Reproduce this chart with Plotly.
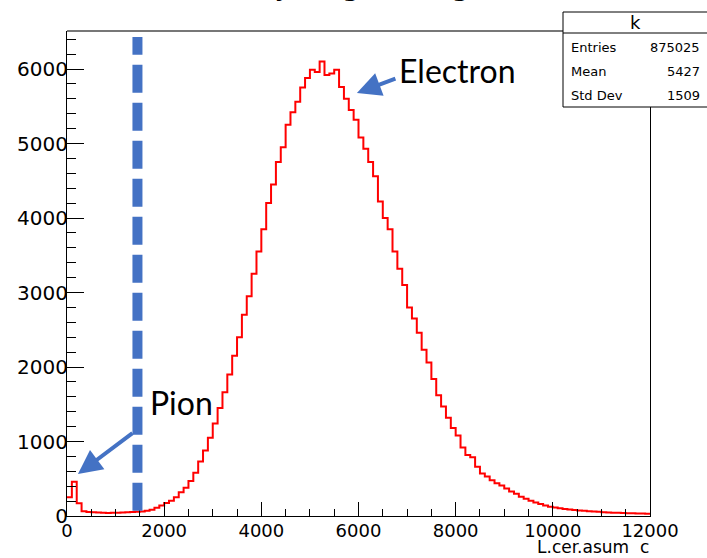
import plotly.graph_objects as go

# ---- data ----
bin_width = 100
counts = [250, 460, 170, 65, 55, 50, 48, 45, 40, 42,
          45, 48, 50, 55, 58, 60, 70, 85, 110, 140,
          175, 205, 250, 320, 380, 470, 580, 730, 880, 1050,
          1240, 1450, 1660, 1900, 2150, 2400, 2700, 2950, 3250, 3550,
          3850, 4200, 4450, 4750, 4950, 5250, 5420, 5560, 5750, 5880,
          5990, 5960, 6100, 5920, 5940, 5990, 5760, 5600, 5450, 5320,
          5080, 4930, 4750, 4560, 4220, 4000, 3850, 3550, 3320, 3100,
          2800, 2650, 2460, 2230, 2060, 1840, 1620, 1470, 1320, 1180,
          1080, 920, 820, 790, 660, 570, 530, 480, 440, 410,
          370, 330, 300, 260, 230, 205, 180, 160, 140, 125,
          115, 105, 95, 88, 80, 75, 70, 65, 60, 56,
          52, 48, 45, 42, 40, 38, 36, 34, 32, 30]
cut_value = 1450
title_text = "Hydrogen Target"
x_title = "L.cer.asum\u00a0\u00a0c"
stats_name = "k"
stats_labels = ["Entries", "Mean", "Std Dev"]
stats_values = ["875025", "5427", "1509"]
x_ticks = [0, 2000, 4000, 6000, 8000, 10000, 12000]
x_tick_text = ["0", "2000", "4000", "6000", "8000", "10000", "12000"]
y_ticks = [0, 1000, 2000, 3000, 4000, 5000, 6000]
y_tick_text = ["0", "1000", "2000", "3000", "4000", "5000", "6000"]

bin_edges = [i * bin_width for i in range(len(counts) + 1)]
step_y = counts + [counts[-1]]

BLUE = "#4472C4"
FONT = "DejaVu Sans"

fig = go.Figure()
fig.add_trace(go.Scatter(x=bin_edges, y=step_y, mode="lines",
                         line=dict(color="#ff0000", width=2, shape="hv"),
                         hoverinfo="skip", showlegend=False))

# cut line
fig.add_shape(type="line", x0=cut_value, x1=cut_value, y0=70, y1=6430,
              xref="x", yref="y",
              line=dict(color=BLUE, width=10, dash="28px,10px"))

# top frame line (gray)
fig.add_shape(type="line", x0=0, x1=1, y0=1, y1=1, xref="paper", yref="paper",
              line=dict(color="#777777", width=2))


def px_x(p):
    return (p - 67) / 583.0


def px_y(p):
    return (516 - p) / 485.0


# title, cut off at top of canvas
fig.add_annotation(text=title_text, xref="paper", yref="paper",
                   x=px_x(376), y=px_y(4),
                   xanchor="center", yanchor="bottom", showarrow=False,
                   font=dict(family=FONT, size=30, color="black"))

# x-axis title
fig.add_annotation(text=x_title, xref="paper", yref="paper",
                   x=px_x(651), y=px_y(559), xanchor="right", yanchor="bottom",
                   showarrow=False, font=dict(family=FONT, size=17, color="black"))

# arrows + labels
fig.add_annotation(x=5967, y=5678, xref="x", yref="y", text="",
                   showarrow=True, axref="pixel", ayref="pixel", ax=40, ay=-15,
                   arrowhead=2, arrowsize=1.2, arrowwidth=4, arrowcolor=BLUE)
fig.add_annotation(text="Electron", x=(397 - 67) / 48.6 * 1000, y=(516 - 70) / 74.5 * 1000,
                   xref="x", yref="y", xanchor="left", yanchor="middle",
                   showarrow=False, font=dict(family="Lato", size=32, color="black"))
fig.add_annotation(x=226, y=564, xref="x", yref="y", text="",
                   showarrow=True, axref="pixel", ayref="pixel", ax=56, ay=-42,
                   arrowhead=2, arrowsize=1.2, arrowwidth=4, arrowcolor=BLUE)
fig.add_annotation(text="Pion", x=(148 - 67) / 48.6 * 1000, y=(516 - 402) / 74.5 * 1000,
                   xref="x", yref="y", xanchor="left", yanchor="middle",
                   showarrow=False, font=dict(family="Lato", size=32, color="black"))

# stats box
fig.add_shape(type="rect", xref="paper", yref="paper",
              x0=px_x(563), x1=px_x(720), y0=px_y(107), y1=px_y(12),
              line=dict(color="black", width=1), fillcolor="white", layer="above")
fig.add_shape(type="line", xref="paper", yref="paper",
              x0=px_x(563), x1=px_x(720), y0=px_y(33), y1=px_y(33),
              line=dict(color="black", width=1), layer="above")
fig.add_annotation(text=stats_name, xref="paper", yref="paper",
                   x=px_x(635), y=px_y(22), xanchor="center", yanchor="middle",
                   showarrow=False, font=dict(family=FONT, size=18, color="black"))
rows_y = [47, 71, 96]
for lab, val, ry in zip(stats_labels, stats_values, rows_y):
    fig.add_annotation(text=lab, xref="paper", yref="paper",
                       x=px_x(569), y=px_y(ry), xanchor="left", yanchor="middle",
                       showarrow=False, font=dict(family=FONT, size=13, color="black"))
    fig.add_annotation(text=val, xref="paper", yref="paper",
                       x=px_x(702), y=px_y(ry), xanchor="right", yanchor="middle",
                       showarrow=False, font=dict(family=FONT, size=13, color="black"))

fig.update_layout(
    width=707, height=558,
    margin=dict(l=67, r=57, t=31, b=42, autoexpand=False),
    paper_bgcolor="white", plot_bgcolor="white",
    showlegend=False,
    xaxis=dict(range=[0, 12000], tickvals=x_ticks, ticktext=x_tick_text,
               ticks="inside", ticklen=14, automargin=False,
               tickcolor="black", showline=True, linecolor="black", linewidth=1,
               showgrid=False, zeroline=False,
               tickfont=dict(family=FONT, size=18, color="black"),
               ticklabelstandoff=-2,
               minor=dict(dtick=500, ticks="inside", ticklen=7, tickcolor="black", showgrid=False)),
    yaxis=dict(range=[0, 6510], tickvals=y_ticks, ticktext=y_tick_text,
               ticks="inside", ticklen=17, automargin=False,
               tickcolor="black", showline=True, linecolor="black", linewidth=1,
               mirror=True, showgrid=False, zeroline=False,
               tickfont=dict(family=FONT, size=20, color="black"),
               ticklabelstandoff=-6,
               minor=dict(dtick=200, ticks="inside", ticklen=9, tickcolor="black", showgrid=False)),
)

fig.write_html("out.html", config={"displayModeBar": False},
               post_script="document.body.style.margin='0';document.body.style.overflow='hidden';")
